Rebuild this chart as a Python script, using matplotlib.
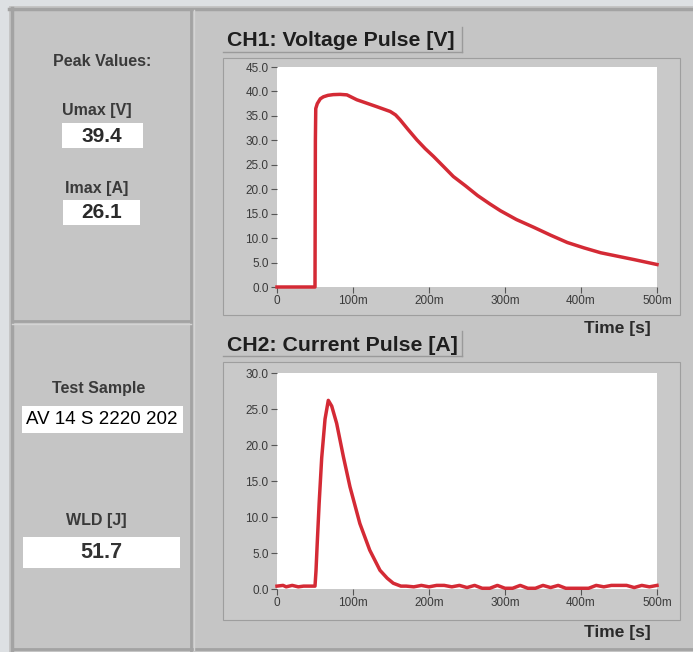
import matplotlib.pyplot as plt
from matplotlib.patches import Rectangle
from matplotlib.lines import Line2D

plt.rcParams['font.family'] = ['Liberation Sans', 'DejaVu Sans']

# CH1 voltage pulse (time in ms, voltage in V)
v_time = [0, 50, 50.5, 51, 53, 57, 61, 67, 74, 83, 92, 105, 118, 131, 149, 156, 162,
          172, 184, 195, 206, 220, 232, 248, 264, 280, 294, 315, 338, 360, 382, 404,
          426, 448, 470, 485, 500]
v_volt = [0, 0, 30, 36.5, 37.5, 38.5, 38.9, 39.2, 39.35, 39.4, 39.3, 38.3, 37.6, 36.9,
          35.9, 35.2, 34.2, 32.3, 30.1, 28.3, 26.7, 24.5, 22.6, 20.7, 18.7, 17.0,
          15.6, 13.8, 12.2, 10.6, 9.1, 8.0, 7.0, 6.3, 5.6, 5.1, 4.6]

# CH2 current pulse (time in ms, current in A)
i_time = [0, 8, 12, 20, 28, 35, 42, 50, 51.3, 53, 55.5, 58.8, 63.2, 67.5, 72, 78.5,
          87.3, 96, 109, 122, 135.5, 145, 153, 163, 170, 180, 190, 200, 210, 220, 230,
          240, 250, 260, 270, 280, 290, 300, 310, 320, 330, 340, 350, 360, 370, 380,
          390, 400, 410, 420, 430, 440, 450, 460, 470, 480, 490, 500]
i_amp = [0.4, 0.5, 0.3, 0.5, 0.3, 0.4, 0.4, 0.4, 2.5, 6.5, 12.0, 18.2, 23.6, 26.2,
         25.4, 23.0, 18.4, 14.2, 9.1, 5.4, 2.6, 1.5, 0.8, 0.4, 0.4, 0.3, 0.5, 0.3,
         0.5, 0.5, 0.3, 0.5, 0.2, 0.5, 0.1, 0.1, 0.5, 0.1, 0.1, 0.5, 0.1, 0.1, 0.5,
         0.2, 0.5, 0.1, 0.1, 0.1, 0.1, 0.5, 0.3, 0.5, 0.5, 0.5, 0.2, 0.5, 0.3, 0.5]

x_ticks = [0, 100, 200, 300, 400, 500]
x_labels = ['0', '100m', '200m', '300m', '400m', '500m']
v_ticks = [0, 5, 10, 15, 20, 25, 30, 35, 40, 45]
i_ticks = [0, 5, 10, 15, 20, 25, 30]

peak_u = '39.4'
peak_i = '26.1'
sample = 'AV 14 S 2220 202'
wld = '51.7'

W, H = 693, 652
bg = '#c5c5c5'
edge = '#a3a3a3'
light = '#dde0e3'
txt = '#3a3a3a'
red = '#d42a35'

fig = plt.figure(figsize=(W / 100, H / 100), dpi=100, facecolor=bg)


def fx(px):
    return px / W


def fy(py):
    return 1 - py / H


def rect(x0, y0, x1, y1, fc, ec='none', lw=0.0, z=-2):
    fig.patches.append(Rectangle((fx(x0), fy(y1)), fx(x1) - fx(x0), fy(y0) - fy(y1),
                                 transform=fig.transFigure, facecolor=fc,
                                 edgecolor=ec, linewidth=lw, zorder=z))


def line(xs, ys, c=edge, lw=1.5):
    fig.lines.append(Line2D([fx(x) for x in xs], [fy(y) for y in ys],
                            transform=fig.transFigure, color=c, linewidth=lw,
                            zorder=-1))


# outer light border and panel frame
rect(0, 0, 9, H, light)
rect(0, 0, W, 6, light)
line([12, 12], [8, 650], lw=2.5)
line([9, W], [9, 9], lw=2.5)
line([12, W], [649, 649], lw=2)
line([191, 191], [10, 650], lw=2)
line([194, 194], [10, 650], c='#d4d4d4', lw=1)
line([12, 191], [321, 321], lw=2)
line([12, 191], [324, 324], c='#d4d4d4', lw=1)

# graph frames
for y0, y1 in [(58, 315), (362, 620)]:
    rect(223, y0, 680, y1, '#c9c9c9', ec='#9e9e9e', lw=0.8)

# left panel texts and boxes
fig.text(fx(102), fy(62), 'Peak Values:', ha='center', va='center', fontsize=11.5,
         fontweight='bold', color=txt)
fig.text(fx(97), fy(111), 'Umax [V]', ha='center', va='center', fontsize=11.5,
         fontweight='bold', color=txt)
rect(62, 123, 143, 148, 'white', z=1)
fig.text(fx(102), fy(136), peak_u, ha='center', va='center', fontsize=15,
         fontweight='bold', color='#2a2a2a')
fig.text(fx(97), fy(189), 'Imax [A]', ha='center', va='center', fontsize=11.5,
         fontweight='bold', color=txt)
rect(63, 200, 140, 225, 'white', z=1)
fig.text(fx(102), fy(213), peak_i, ha='center', va='center', fontsize=15,
         fontweight='bold', color='#2a2a2a')

fig.text(fx(99), fy(389), 'Test Sample', ha='center', va='center', fontsize=11.5,
         fontweight='bold', color=txt)
rect(22, 406, 183, 433, 'white', z=1)
fig.text(fx(102), fy(420), sample, ha='center', va='center', fontsize=13.5,
         color='black')
fig.text(fx(96), fy(521), 'WLD [J]', ha='center', va='center', fontsize=11.5,
         fontweight='bold', color=txt)
rect(23, 537, 180, 568, 'white', z=1)
fig.text(fx(101), fy(553), wld, ha='center', va='center', fontsize=15.5,
         fontweight='bold', color='#333333')

# graph titles
for ty, title in [(41, 'CH1: Voltage Pulse [V]'), (345, 'CH2: Current Pulse [A]')]:
    fig.text(fx(227), fy(ty), title, ha='left', va='center', fontsize=15.3,
             fontweight='bold', color='#1e1e1e')
    line([223, 462], [ty + 11, ty + 11], c='#9a9a9a', lw=1)
    line([462, 462], [ty - 14, ty + 11], c='#9a9a9a', lw=1)

for ty in [328, 632]:
    fig.text(fx(651), fy(ty), 'Time [s]', ha='right', va='center', fontsize=12.5,
             fontweight='bold', color='#2a2a2a')


def make_axes(top, bottom, t, y, yticks):
    ax = fig.add_axes([fx(277), fy(bottom), fx(657) - fx(277), fy(top) - fy(bottom)])
    ax.set_facecolor('white')
    ax.plot(t, y, color=red, linewidth=2.5, solid_joinstyle='round', clip_on=False)
    ax.set_xlim(0, 500)
    ax.set_ylim(0, yticks[-1])
    ax.set_xticks(x_ticks)
    ax.set_xticklabels(x_labels)
    ax.set_yticks(yticks)
    ax.set_yticklabels(['%.1f' % v for v in yticks])
    for s in ax.spines.values():
        s.set_visible(False)
    ax.tick_params(direction='out', length=4, width=0.8, colors='#555555',
                   labelsize=8.5, labelcolor='#3a3a3a', pad=2)
    return ax


make_axes(67, 287, v_time, v_volt, v_ticks)
make_axes(373, 589, i_time, i_amp, i_ticks)

fig.savefig('out.png', dpi=100, facecolor=bg)
